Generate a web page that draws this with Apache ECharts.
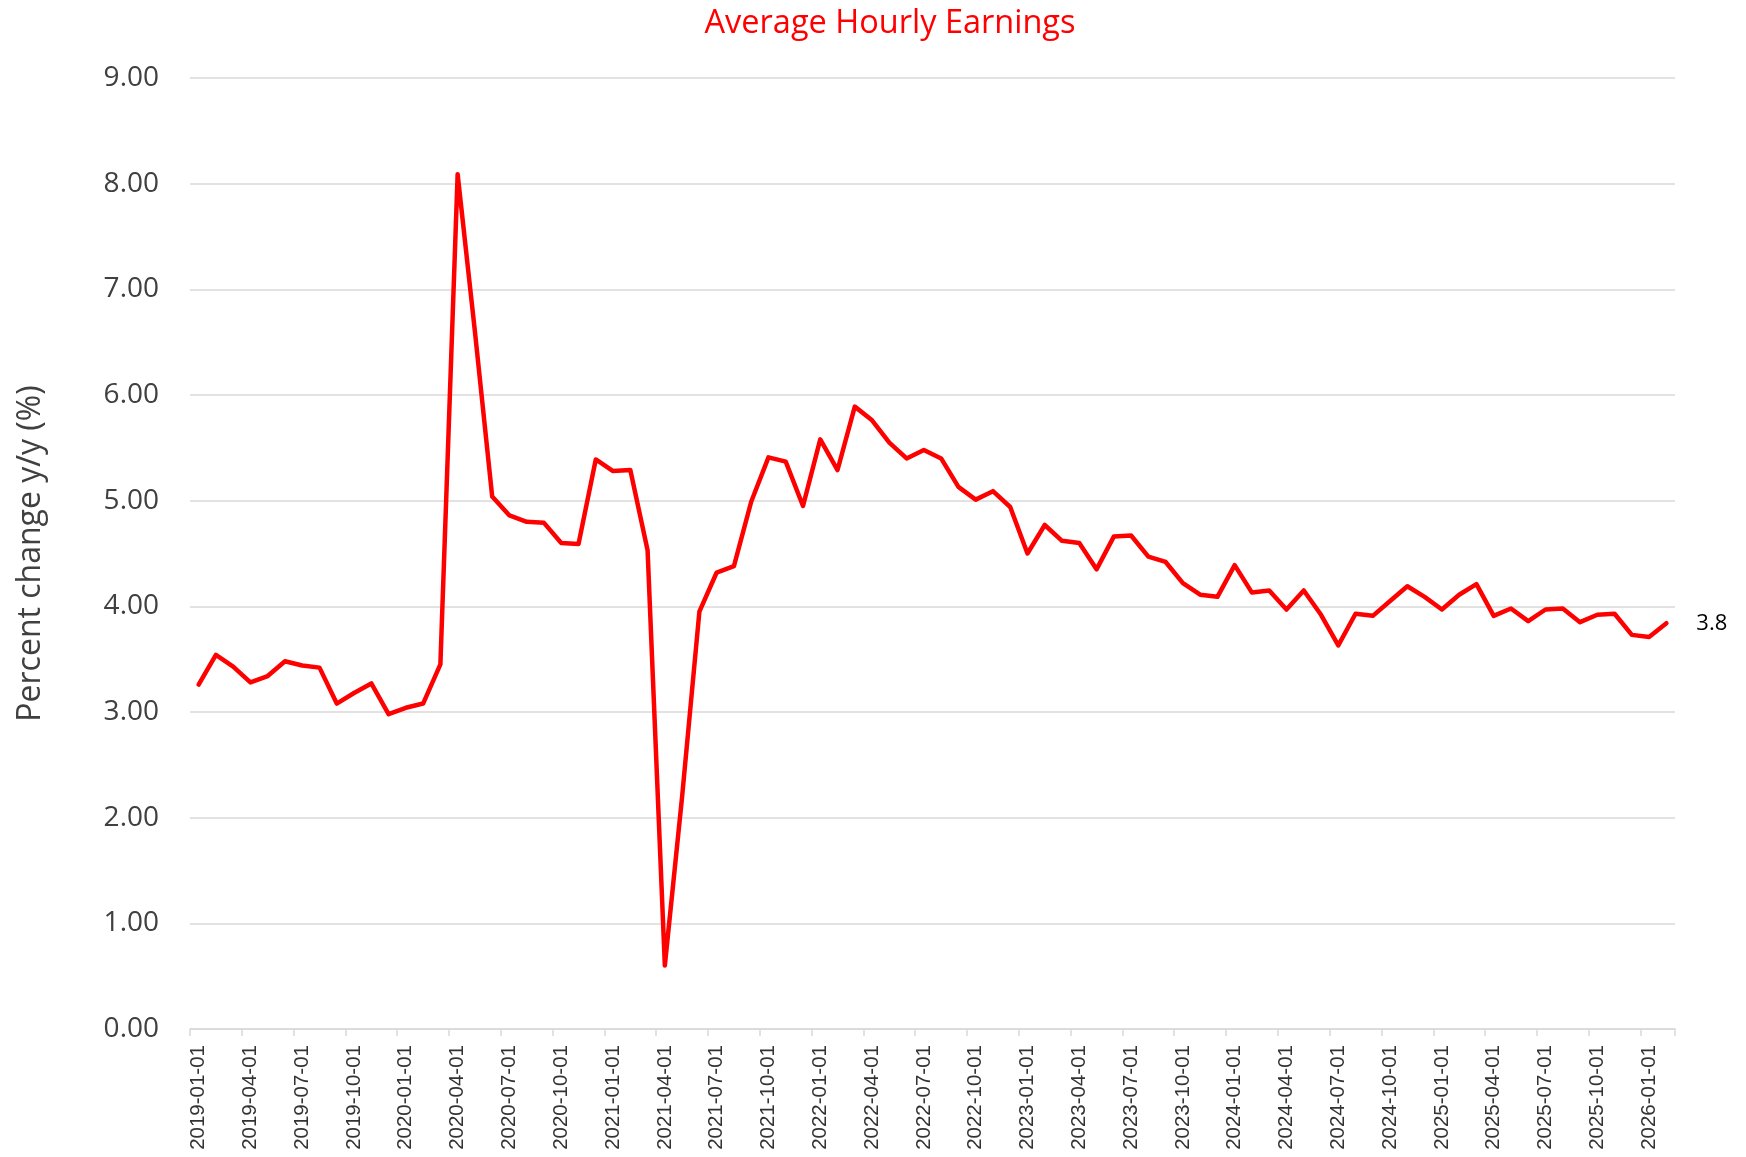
<!DOCTYPE html>
<html>
<head>
<meta charset="utf-8">
<script src="https://cdn.jsdelivr.net/npm/echarts@6/dist/echarts.min.js"></script>
<style>
html,body{margin:0;padding:0;background:#fff;}
#chart{width:1746px;height:1157px;}
</style>
</head>
<body>
<div id="chart"></div>
<script>
const titleText = "Average Hourly Earnings";
const yAxisName = "Percent change y/y (%)";
const yTicks = [0, 1, 2, 3, 4, 5, 6, 7, 8, 9];

const categories = [
  "2019-01-01","2019-02-01","2019-03-01","2019-04-01","2019-05-01","2019-06-01",
  "2019-07-01","2019-08-01","2019-09-01","2019-10-01","2019-11-01","2019-12-01",
  "2020-01-01","2020-02-01","2020-03-01","2020-04-01","2020-05-01","2020-06-01",
  "2020-07-01","2020-08-01","2020-09-01","2020-10-01","2020-11-01","2020-12-01",
  "2021-01-01","2021-02-01","2021-03-01","2021-04-01","2021-05-01","2021-06-01",
  "2021-07-01","2021-08-01","2021-09-01","2021-10-01","2021-11-01","2021-12-01",
  "2022-01-01","2022-02-01","2022-03-01","2022-04-01","2022-05-01","2022-06-01",
  "2022-07-01","2022-08-01","2022-09-01","2022-10-01","2022-11-01","2022-12-01",
  "2023-01-01","2023-02-01","2023-03-01","2023-04-01","2023-05-01","2023-06-01",
  "2023-07-01","2023-08-01","2023-09-01","2023-10-01","2023-11-01","2023-12-01",
  "2024-01-01","2024-02-01","2024-03-01","2024-04-01","2024-05-01","2024-06-01",
  "2024-07-01","2024-08-01","2024-09-01","2024-10-01","2024-11-01","2024-12-01",
  "2025-01-01","2025-02-01","2025-03-01","2025-04-01","2025-05-01","2025-06-01",
  "2025-07-01","2025-08-01","2025-09-01","2025-10-01","2025-11-01","2025-12-01",
  "2026-01-01","2026-02-01"
];

const earningsYoY = [
  3.26, 3.54, 3.43, 3.28, 3.34, 3.48, 3.44, 3.42, 3.08, 3.18, 3.27, 2.98,
  3.04, 3.08, 3.45, 8.09, 6.60, 5.04, 4.86, 4.80, 4.79, 4.60, 4.59, 5.39,
  5.28, 5.29, 4.53, 0.60, 2.20, 3.95, 4.32, 4.38, 4.99, 5.41, 5.37, 4.95,
  5.58, 5.29, 5.89, 5.76, 5.55, 5.40, 5.48, 5.40, 5.13, 5.01, 5.09, 4.94,
  4.50, 4.77, 4.62, 4.60, 4.35, 4.66, 4.67, 4.47, 4.42, 4.22, 4.11, 4.09,
  4.39, 4.13, 4.15, 3.97, 4.15, 3.92, 3.63, 3.93, 3.91, 4.05, 4.19, 4.09,
  3.97, 4.11, 4.21, 3.91, 3.98, 3.86, 3.97, 3.98, 3.85, 3.92, 3.93, 3.73,
  3.71, 3.84
];

const chart = echarts.init(document.getElementById('chart'), null, {renderer: 'canvas'});
chart.setOption({
  animation: false,
  backgroundColor: '#ffffff',
  title: {
    text: titleText,
    left: 885,
    top: 2,
    textAlign: 'center',
    textStyle: {
      color: '#FF0000',
      fontFamily: 'Open Sans',
      fontSize: 32.5,
      fontWeight: 'normal'
    }
  },
  grid: {
    left: 190,
    right: 71,
    top: 78,
    bottom: 128,
    containLabel: false,
    outerBoundsMode: 'none'
  },
  xAxis: {
    type: 'category',
    data: categories,
    boundaryGap: true,
    axisLine: { show: true, lineStyle: { color: '#d9d9d9', width: 1.5 } },
    axisTick: { show: true, interval: 2, length: 7, lineStyle: { color: '#d9d9d9', width: 1.5 } },
    axisLabel: {
      interval: 2,
      rotate: 90,
      margin: 16,
      color: '#333333',
      fontFamily: 'Liberation Sans',
      fontSize: 20.5
    },
    splitLine: { show: false }
  },
  yAxis: {
    type: 'value',
    min: yTicks[0],
    max: yTicks[yTicks.length - 1],
    interval: 1,
    name: yAxisName,
    nameLocation: 'middle',
    nameRotate: 90,
    nameGap: 143,
    nameTextStyle: {
      color: '#404040',
      fontFamily: 'Open Sans',
      fontSize: 32
    },
    axisLine: { show: false },
    axisTick: { show: false },
    axisLabel: {
      margin: 31,
      color: '#404040',
      fontFamily: 'Open Sans',
      fontSize: 28,
      formatter: v => v.toFixed(2)
    },
    splitLine: { show: true, lineStyle: { color: '#d9d9d9', width: 1.5 } }
  },
  series: [{
    type: 'line',
    data: earningsYoY,
    showSymbol: false,
    symbol: 'none',
    lineStyle: { color: '#FF0000', width: 4.5, join: 'round', cap: 'round' },
    itemStyle: { color: '#FF0000' },
    endLabel: {
      show: true,
      distance: 30,
      color: '#000000',
      fontFamily: 'Open Sans',
      fontSize: 22,
      formatter: p => Number(p.value).toFixed(1)
    }
  }]
});
</script>
</body>
</html>
